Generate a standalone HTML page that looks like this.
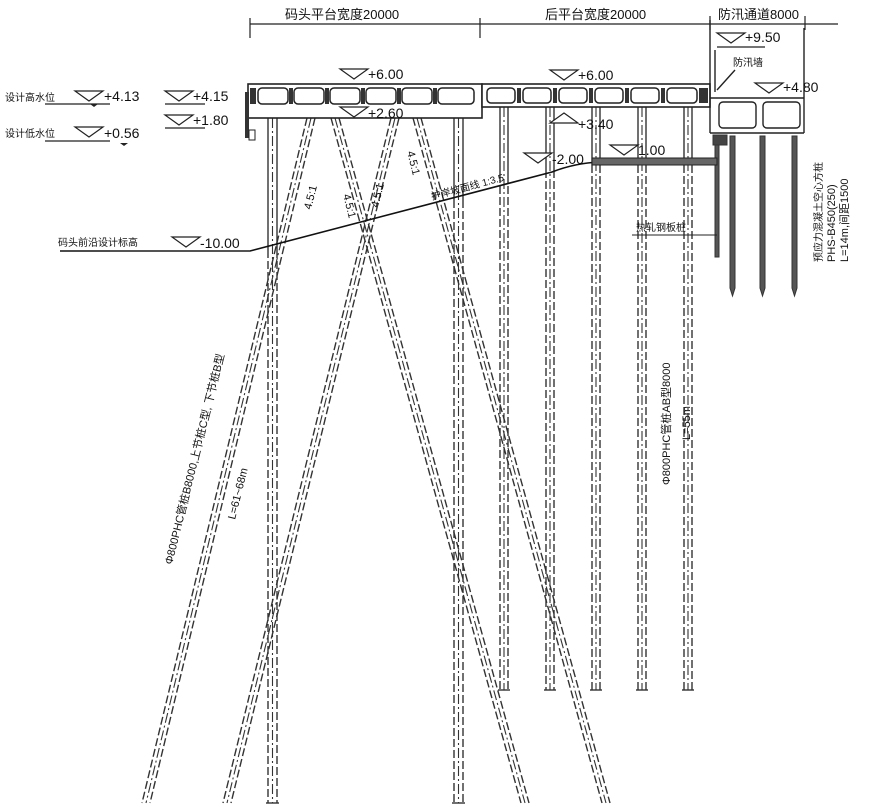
<!DOCTYPE html>
<html><head><meta charset="utf-8"><style>
html,body{margin:0;padding:0;background:#fff;}
svg{display:block;}
text{font-family:"Liberation Sans","Noto Sans CJK SC",sans-serif;fill:#111;}
</style></head><body>
<svg width="884" height="810" viewBox="0 0 884 810" xmlns="http://www.w3.org/2000/svg">
<g stroke="#222" fill="none" stroke-width="1.2">
<line x1="250" y1="24" x2="838" y2="24"/>
<line x1="250" y1="18" x2="250" y2="38"/>
<line x1="480" y1="18" x2="480" y2="38"/>
<line x1="710" y1="16" x2="710" y2="30"/>
<line x1="805" y1="16" x2="805" y2="30"/>
</g>
<g font-size="13">
<text x="285" y="19">码头平台宽度20000</text>
<text x="545" y="19">后平台宽度20000</text>
<text x="718" y="19">防汛通道8000</text>
</g>

<g stroke="#333" stroke-width="1.4" fill="none">
<g stroke-dasharray="8,3">
<line x1="268" y1="250" x2="268" y2="803"/><line x1="277" y1="250" x2="277" y2="803"/>
<line x1="454" y1="200" x2="454" y2="803"/><line x1="463" y1="200" x2="463" y2="803"/>
<line x1="500" y1="175" x2="500" y2="690"/><line x1="508" y1="175" x2="508" y2="690"/>
<line x1="546" y1="170" x2="546" y2="690"/><line x1="554" y1="170" x2="554" y2="690"/>
<line x1="592" y1="165" x2="592" y2="690"/><line x1="600" y1="165" x2="600" y2="690"/>
<line x1="638" y1="165" x2="638" y2="690"/><line x1="646" y1="165" x2="646" y2="690"/>
<line x1="684" y1="165" x2="684" y2="690"/><line x1="692" y1="165" x2="692" y2="690"/>
</g>
<line x1="268" y1="118" x2="268" y2="250"/><line x1="277" y1="118" x2="277" y2="250"/>
<line x1="454" y1="118" x2="454" y2="200"/><line x1="463" y1="118" x2="463" y2="200"/>
<line x1="500" y1="107" x2="500" y2="175"/><line x1="508" y1="107" x2="508" y2="175"/>
<line x1="546" y1="107" x2="546" y2="170"/><line x1="554" y1="107" x2="554" y2="170"/>
<line x1="592" y1="107" x2="592" y2="165"/><line x1="600" y1="107" x2="600" y2="165"/>
<line x1="638" y1="107" x2="638" y2="165"/><line x1="646" y1="107" x2="646" y2="165"/>
<line x1="684" y1="107" x2="684" y2="165"/><line x1="692" y1="107" x2="692" y2="165"/>
<g stroke-dasharray="10,3,2,3" stroke-width="1.1">
<line x1="272.5" y1="118" x2="272.5" y2="803"/>
<line x1="458.5" y1="118" x2="458.5" y2="803"/>
<line x1="504" y1="107" x2="504" y2="690"/>
<line x1="550" y1="107" x2="550" y2="690"/>
<line x1="596" y1="107" x2="596" y2="690"/>
<line x1="642" y1="107" x2="642" y2="690"/>
<line x1="688" y1="107" x2="688" y2="690"/>
</g>
<line x1="266" y1="803" x2="279" y2="803"/><line x1="452" y1="803" x2="465" y2="803"/>
<line x1="498" y1="690" x2="510" y2="690"/><line x1="544" y1="690" x2="556" y2="690"/>
<line x1="590" y1="690" x2="602" y2="690"/><line x1="636" y1="690" x2="648" y2="690"/>
<line x1="682" y1="690" x2="694" y2="690"/>
<g stroke-dasharray="8,3">
<line x1="307" y1="118" x2="142" y2="803"/><line x1="315" y1="118" x2="150" y2="803"/>
<line x1="331" y1="118" x2="521" y2="803"/><line x1="339" y1="118" x2="529" y2="803"/>
<line x1="391" y1="118" x2="223" y2="803"/><line x1="399" y1="118" x2="231" y2="803"/>
<line x1="413" y1="118" x2="602" y2="803"/><line x1="421" y1="118" x2="610" y2="803"/>
</g>
<g stroke-dasharray="10,3,2,3" stroke-width="1.1">
<line x1="311" y1="118" x2="146" y2="803"/>
<line x1="335" y1="118" x2="525" y2="803"/>
<line x1="395" y1="118" x2="227" y2="803"/>
<line x1="417" y1="118" x2="606" y2="803"/>
</g>
</g>

<g stroke="#222" stroke-width="1.6" fill="#fff">
<rect x="248" y="84" width="234" height="34"/>
<rect x="482" y="84" width="228" height="23"/>
</g>
<g stroke="#222" stroke-width="1.5" fill="#fff">
<rect x="258" y="88" width="30" height="16" rx="4"/>
<rect x="294" y="88" width="30" height="16" rx="4"/>
<rect x="330" y="88" width="30" height="16" rx="4"/>
<rect x="366" y="88" width="30" height="16" rx="4"/>
<rect x="402" y="88" width="30" height="16" rx="4"/>
<rect x="438" y="88" width="36" height="16" rx="4"/>
<rect x="487" y="88" width="28" height="15" rx="4"/>
<rect x="523" y="88" width="28" height="15" rx="4"/>
<rect x="559" y="88" width="28" height="15" rx="4"/>
<rect x="595" y="88" width="28" height="15" rx="4"/>
<rect x="631" y="88" width="28" height="15" rx="4"/>
<rect x="667" y="88" width="30" height="15" rx="4"/>
</g>
<g fill="#333">
<rect x="289" y="88" width="4" height="16"/><rect x="325" y="88" width="4" height="16"/>
<rect x="361" y="88" width="4" height="16"/><rect x="397" y="88" width="4" height="16"/>
<rect x="433" y="88" width="4" height="16"/><rect x="517" y="88" width="4" height="15"/>
<rect x="553" y="88" width="4" height="15"/><rect x="589" y="88" width="4" height="15"/>
<rect x="625" y="88" width="4" height="15"/><rect x="661" y="88" width="4" height="15"/>
<rect x="699" y="88" width="9" height="15"/><rect x="250" y="88" width="6" height="16"/>
<rect x="245" y="92" width="4" height="46"/>
</g>
<rect x="249" y="130" width="6" height="10" fill="#fff" stroke="#222"/>

<g stroke="#222" stroke-width="1.4" fill="none">
<line x1="710" y1="20" x2="710" y2="133"/>
<line x1="804" y1="28" x2="804" y2="133"/>
<line x1="710" y1="133" x2="804" y2="133"/>
<line x1="715" y1="50" x2="715" y2="92"/>
<line x1="710" y1="98" x2="804" y2="98"/>
<rect x="719" y="102" width="37" height="26" rx="4"/>
<rect x="763" y="102" width="37" height="26" rx="4"/>
<line x1="717" y1="90" x2="735" y2="70"/>
</g>
<g stroke="#333" fill="#555">
<rect x="715" y="136" width="4" height="121"/>
<rect x="713" y="135" width="14" height="10" fill="#444"/>
<path d="M730 136 h5 v152 l-2.5 8 l-2.5 -8 z"/>
<path d="M760 136 h5 v152 l-2.5 8 l-2.5 -8 z"/>
<path d="M792 136 h5 v152 l-2.5 8 l-2.5 -8 z"/>
</g>
<g stroke="#111" stroke-width="1.6" fill="none">
<path d="M60 251 H250 L552 172 Q575 163 600 162 H717"/>
</g>
<g stroke="#222" stroke-width="1">
<rect x="592" y="158" width="125" height="7" fill="#666"/>
<line x1="110" y1="251" x2="250" y2="251"/>
<line x1="632" y1="235" x2="717" y2="235"/>
</g>

<g stroke="#222" stroke-width="1.2" fill="#fff">
<path d="M75 91 h28 l-14 10 z"/><line x1="45" y1="104" x2="110" y2="104"/>
<path d="M75 127 h28 l-14 10 z"/><line x1="45" y1="141" x2="110" y2="141"/>
<path d="M165 91 h28 l-14 10 z"/><line x1="165" y1="104" x2="205" y2="104"/>
<path d="M165 115 h28 l-14 10 z"/><line x1="165" y1="128" x2="205" y2="128"/>
<path d="M340 69 h28 l-14 10 z"/>
<path d="M340 107 h28 l-14 10 z"/>
<path d="M550 70 h28 l-14 10 z"/>
<path d="M550 123 h28 l-14 -10 z"/>
<path d="M524 153 h28 l-14 10 z"/>
<path d="M610 145 h28 l-14 10 z"/>
<path d="M717 33 h28 l-14 10 z"/><line x1="717" y1="47" x2="765" y2="47"/>
<path d="M755 83 h28 l-14 10 z"/>
<path d="M172 237 h28 l-14 10 z"/>
</g>
<g fill="#222"><path d="M90 104 h8 l-4 3 z"/><path d="M120 143 h8 l-4 3 z"/></g>

<g font-size="14">
<text x="104" y="101">+4.13</text>
<text x="104" y="138">+0.56</text>
<text x="193" y="101">+4.15</text>
<text x="193" y="125">+1.80</text>
<text x="368" y="79">+6.00</text>
<text x="368" y="118">+2.60</text>
<text x="578" y="80">+6.00</text>
<text x="578" y="129">+3.40</text>
<text x="552" y="164">-2.00</text>
<text x="638" y="155">1.00</text>
<text x="745" y="42">+9.50</text>
<text x="783" y="92">+4.80</text>
<text x="200" y="248">-10.00</text>
</g>
<g font-size="10">
<text x="5" y="101">设计高水位</text>
<text x="5" y="137">设计低水位</text>
<text x="58" y="246">码头前沿设计标高</text>
<text x="733" y="66">防汛墙</text>
<text x="636" y="231">热轧钢板桩</text>
<text transform="translate(432,200) rotate(-15)">护岸坡面线 1:3.5</text>
</g>
<g font-size="11">
<text transform="translate(311,210) rotate(-76)">4.5:1</text>
<text transform="translate(343,195) rotate(76)">4.5:1</text>
<text transform="translate(378,208) rotate(-76)">4.5:1</text>
<text transform="translate(407,152) rotate(76)">4.5:1</text>
</g>
<g font-size="11">
<text transform="translate(172,565) rotate(-76)">Φ800PHC管桩B8000,上节桩C型, 下节桩B型</text>
<text transform="translate(235,520) rotate(-76)">L=61~68m</text>
<text transform="translate(670,485) rotate(-90)">Φ800PHC管桩AB型8000</text>
<text transform="translate(690,440) rotate(-90)">L=55m</text>
<text transform="translate(822,262) rotate(-90)" font-size="10">预应力混凝土空心方桩</text>
<text transform="translate(835,262) rotate(-90)">PHS-B450(250)</text>
<text transform="translate(848,262) rotate(-90)">L=14m,间距1500</text>
</g>
</svg>
</body></html>
